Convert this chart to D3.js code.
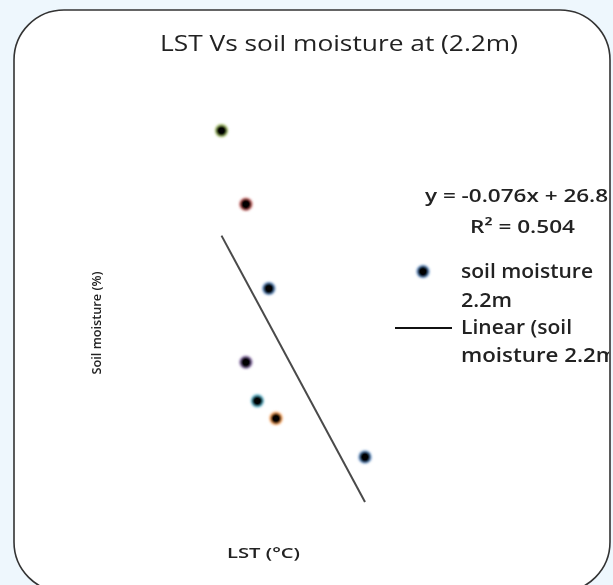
<!DOCTYPE html>
<html>
<head>
<meta charset="utf-8">
<script src="https://cdn.jsdelivr.net/npm/d3@7"></script>
<style>
  html, body { margin: 0; padding: 0; background: #eef7fd; }
  svg { display: block; }
  text { font-family: "Open Sans", "Noto Sans", sans-serif; fill: #222; }
</style>
</head>
<body>
<svg id="chart" width="613" height="585"></svg>
<script>
// ---- data ----
const lst = [30.0, 31.7, 33.3, 31.7, 32.5, 33.8, 40.0];          // LST (°C)
const soilMoisture = [24.91, 24.70, 24.46, 24.25, 24.14, 24.09, 23.98]; // soil moisture (%)
const pointColors = ["#9bbb59", "#c0504d", "#4f81bd", "#8064a2", "#4bacc6", "#f79646", "#4f81bd"];
const titleText = "LST Vs soil moisture  at (2.2m)";
const xTitle = "LST (\u00B0C)";
const yTitle = "Soil moisture (%)";
const equationText = "y = -0.076x + 26.89";
const r2Text = "R\u00B2 = 0.504";
const legendSeries = ["soil moisture", "2.2m"];
const legendTrend = ["Linear (soil", "moisture 2.2m"];

const svg = d3.select("#chart");
const W = 613, H = 585;

svg.append("rect").attr("width", W).attr("height", H).attr("fill", "#eef7fd");

// chart frame
svg.append("rect")
  .attr("x", 14).attr("y", 10).attr("width", 596).attr("height", 582)
  .attr("rx", 50).attr("ry", 50)
  .attr("fill", "#ffffff").attr("stroke", "#333").attr("stroke-width", 1.6);

const defs = svg.append("defs");
defs.append("clipPath").attr("id", "frameClip")
  .append("rect").attr("x", 14).attr("y", 10).attr("width", 595).attr("height", 580);
defs.append("filter").attr("id", "soft")
  .attr("x", "-50%").attr("y", "-50%").attr("width", "200%").attr("height", "200%")
  .append("feGaussianBlur").attr("stdDeviation", 0.8);
defs.append("filter").attr("id", "softText")
  .append("feGaussianBlur").attr("stdDeviation", 0.35);

// scales
const x = d3.scaleLinear().domain([30, 40]).range([221.5, 365]);
const y = d3.scaleLinear().domain([24, 25]).range([450, 99]);

function txt(parent, t, px, py, size, weight, len, anchor) {
  const el = parent.append("text").attr("x", px).attr("y", py)
    .style("font-size", size + "px").style("font-weight", weight || 400)
    .attr("filter", "url(#softText)")
    .text(t);
  if (anchor) el.attr("text-anchor", anchor);
  if (len) el.attr("textLength", len).attr("lengthAdjust", "spacingAndGlyphs");
  return el;
}

// title
txt(svg, titleText, 160, 51, 22, 400, 358);

// axis titles
svg.append("g").attr("transform", "translate(101,323) rotate(-90)")
  .call(gg => txt(gg, yTitle, 0, 0, 13, 600, 103, "middle"));
txt(svg, xTitle, 227, 558, 15, 600, 73);

// linear regression computed from the data
const n = lst.length;
const mx = d3.mean(lst), my = d3.mean(soilMoisture);
let sxy = 0, sxx = 0;
for (let i = 0; i < n; i++) { sxy += (lst[i] - mx) * (soilMoisture[i] - my); sxx += (lst[i] - mx) ** 2; }
const slope = sxy / sxx, intercept = my - slope * mx;
const [x0, x1] = d3.extent(lst);
svg.append("line")
  .attr("x1", x(x0)).attr("y1", y(intercept + slope * x0))
  .attr("x2", x(x1)).attr("y2", y(intercept + slope * x1))
  .attr("stroke", "#4a4a4a").attr("stroke-width", 2);

// points
const pts = svg.append("g").attr("filter", "url(#soft)");
const data = lst.map((v, i) => ({ x: v, y: soilMoisture[i], c: pointColors[i] }));
pts.selectAll("circle.halo").data(data).join("circle").attr("class", "halo")
  .attr("cx", d => x(d.x)).attr("cy", d => y(d.y)).attr("r", 6.8)
  .attr("fill", d => d.c).attr("opacity", 0.75);
pts.selectAll("circle.core").data(data).join("circle").attr("class", "core")
  .attr("cx", d => x(d.x)).attr("cy", d => y(d.y)).attr("r", 5.2)
  .attr("fill", "#000");

// equation & legend (clipped by frame)
const g = svg.append("g").attr("clip-path", "url(#frameClip)");
txt(g, equationText, 425, 202, 18, 600, 196);
txt(g, r2Text, 470, 233, 18, 600, 105);

const lm = g.append("g").attr("filter", "url(#soft)");
lm.append("circle").attr("cx", 423).attr("cy", 271.5).attr("r", 6.8).attr("fill", "#4f81bd").attr("opacity", 0.75);
lm.append("circle").attr("cx", 423).attr("cy", 271.5).attr("r", 5.2).attr("fill", "#000");
const seriesLens = [132, 51];
legendSeries.forEach((t, i) => txt(g, t, 461, 278 + i * 28.5, 20, 600, seriesLens[i]));
g.append("line").attr("x1", 395).attr("x2", 452).attr("y1", 328).attr("y2", 328)
  .attr("stroke", "#111").attr("stroke-width", 2);
const trendLens = [111, 156];
legendTrend.forEach((t, i) => txt(g, t, 461, 334 + i * 28, 20, 600, trendLens[i]));
</script>
</body>
</html>
